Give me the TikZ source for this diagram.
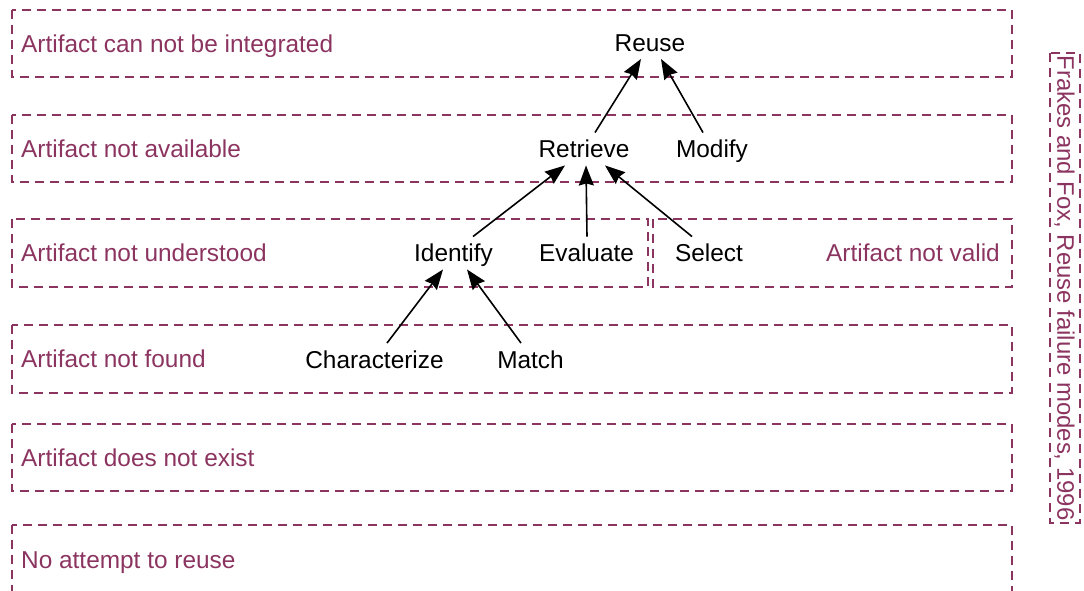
\documentclass[tikz,border=0pt]{standalone}
\usepackage{fontspec}
\setmainfont{Liberation Sans}
\usetikzlibrary{arrows.meta}
\definecolor{fmred}{RGB}{140,52,96}
\begin{document}
\begin{tikzpicture}[x=1pt,y=-1pt,
  lane/.style={draw=fmred,line width=1.5pt,dash pattern=on 9pt off 6pt},
  mode/.style={text=fmred,inner sep=0pt,text height=17.5pt,text depth=0pt,
    font=\fontsize{24.4pt}{29pt}\selectfont},
  act/.style={text=black,inner xsep=0pt,inner ysep=7.5pt,text height=17.5pt,text depth=0pt,
    font=\fontsize{24.4pt}{29pt}\selectfont},
  link/.style={draw=black,line width=1.6pt,-{Stealth[length=20pt,width=15pt,inset=2pt]}}]
\useasboundingbox (0,0) rectangle (1084,590);
\clip (0,0) rectangle (1084,590);

% failure-mode lanes
\draw[lane] (12,10) rectangle (1012,77);
\draw[lane] (12,115) rectangle (1012,182);
\draw[lane] (12,219) rectangle (648,287);
\draw[lane] (653,219) rectangle (1012,287);
\draw[lane] (12,325) rectangle (1012,393);
\draw[lane] (12,424) rectangle (1012,491);
\draw[lane] (12,525) rectangle (1012,600);
\draw[lane] (1050,53) rectangle (1080,523);

% failure-mode labels
\node[mode,anchor=west] (m1) at (21,43.5) {Artifact can not be integrated};
\node[mode,anchor=west] (m2) at (21,149) {Artifact not available};
\node[mode,anchor=west] (m3) at (21,253) {Artifact not understood};
\node[mode,anchor=east] (m3b) at (1000,253) {Artifact not valid};
\node[mode,anchor=west] (m4) at (21,359) {Artifact not found};
\node[mode,anchor=west] (m5) at (21,458) {Artifact does not exist};
\node[mode,anchor=west] (m6) at (21,560) {No attempt to reuse};
\node[mode,rotate=-90,font=\fontsize{23.9pt}{29pt}\selectfont] (src) at (1066,288) {Frakes and Fox, Reuse failure modes, 1996};

% reuse activities
\node[act] (reuse) at (650,42.5) {Reuse};
\node[act] (retrieve) at (584,149) {Retrieve};
\node[act] (modify) at (712,149) {Modify};
\node[act] (identify) at (453.5,253) {Identify};
\node[act] (evaluate) at (586.5,253) {Evaluate};
\node[act] (select) at (709,253) {Select};
\node[act] (character) at (374.5,359.5) {Characterize};
\node[act] (match) at (530.5,359.5) {Match};

% decomposition arrows
\draw[link] ([xshift=11pt]retrieve.north) -- ([xshift=-9pt]reuse.south);
\draw[link] ([xshift=-9pt]modify.north) -- ([xshift=11pt]reuse.south);
\draw[link] ([xshift=19.5pt]identify.north) -- ([xshift=-19pt]retrieve.south);
\draw[link] ([xshift=0.5pt]evaluate.north) -- ([xshift=2pt]retrieve.south);
\draw[link] ([xshift=-17pt]select.north) -- ([xshift=21pt]retrieve.south);
\draw[link] ([xshift=12.5pt]character.north) -- ([xshift=-10.5pt]identify.south);
\draw[link] ([xshift=-9.5pt]match.north) -- ([xshift=13.5pt]identify.south);
\end{tikzpicture}
\end{document}
